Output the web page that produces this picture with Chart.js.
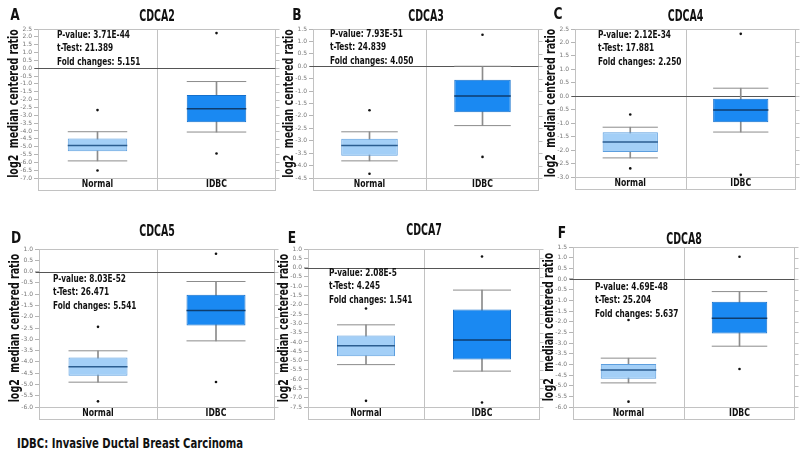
<!DOCTYPE html>
<html>
<head>
<meta charset="utf-8">
<script src="https://cdn.jsdelivr.net/npm/chart.js@4.4.1/dist/chart.umd.min.js"></script>
<style>
  body { margin: 0; background: #fff; width: 800px; height: 462px; position: relative; overflow: hidden;
         font-family: 'Liberation Sans Narrow', 'DejaVu Sans Condensed', sans-serif; color: #111; }
  canvas { position: absolute; }
  .letter { position: absolute; font-weight: bold; font-size: 16px; transform: translate(-50%, -50%) scaleX(0.85); }
  #footer { position: absolute; left: 17px; top: 435px; font-weight: bold; font-size: 14px;
            white-space: nowrap; transform-origin: 0 0; transform: scaleX(0.8); }
</style>
</head>
<body>
<div id="footer">IDBC: Invasive Ductal Breast Carcinoma</div>
<script>
// --- data ---
const genes = ['CDCA2', 'CDCA3', 'CDCA4', 'CDCA5', 'CDCA7', 'CDCA8'];
const letters = ['A', 'B', 'C', 'D', 'E', 'F'];
const groups = ['Normal', 'IDBC'];
const pValues = ['3.71E-44', '7.93E-51', '2.12E-34', '8.03E-52', '2.08E-5', '4.69E-48'];
const tTests = ['21.389', '24.839', '17.881', '26.471', '4.245', '25.204'];
const foldChanges = ['5.151', '4.050', '2.250', '5.541', '1.541', '5.637'];
const yMin = [-7.0, -4.5, -3.0, -6.0, -7.5, -6.0];
const yMax = [2.5, 1.5, 2.5, 1.0, 1.0, 1.5];

// Normal tissue
const normalLow = [-5.91, -3.81, -2.29, -4.90, -5.22, -4.87];
const normalQ1 = [-5.29, -3.60, -2.07, -4.61, -4.77, -4.68];
const normalMedian = [-4.93, -3.19, -1.70, -4.22, -4.20, -4.26];
const normalQ3 = [-4.48, -2.92, -1.34, -3.81, -3.66, -3.98];
const normalHigh = [-4.05, -2.64, -1.15, -3.51, -3.08, -3.71];
const normalOutLow = [-6.52, -4.33, -2.68, -5.75, -7.17, -5.75];
const normalOutHigh = [-2.67, -1.77, -0.68, -2.45, -2.20, -1.92];

// IDBC
const idbcLow = [-4.07, -2.39, -1.33, -3.07, -5.57, -3.15];
const idbcQ1 = [-3.45, -1.85, -0.97, -2.39, -4.95, -2.56];
const idbcMedian = [-2.58, -1.20, -0.51, -1.72, -3.89, -1.84];
const idbcQ3 = [-1.71, -0.54, -0.09, -1.03, -2.25, -1.07];
const idbcHigh = [-0.85, 0.00, 0.30, -0.44, -1.21, -0.59];
const idbcOutLow = [-5.44, -3.65, -2.92, -4.89, -7.26, -4.22];
const idbcOutHigh = [2.24, 1.27, 2.32, 0.79, 0.60, 1.04];

// --- panel placement (plot box edges in page pixels) ---
const panels = [
  { left: 38, top: 29, right: 276, bottom: 178, titleGap: 12, statsDx: 19, statsDy: 6, letter: [15, 14] },
  { left: 313, top: 29, right: 539, bottom: 178, titleGap: 12, statsDx: 17, statsDy: 5, letter: [297, 14] },
  { left: 575, top: 29, right: 796, bottom: 177, titleGap: 12, statsDx: 23, statsDy: 6, letter: [558, 13] },
  { left: 39, top: 249, right: 275, bottom: 407, titleGap: 17, statsDx: 14, statsDy: 30, letter: [16, 237] },
  { left: 308, top: 249, right: 540, bottom: 407, titleGap: 18, statsDx: 21, statsDy: 24, letter: [292, 237] },
  { left: 573, top: 247, right: 795, bottom: 407, titleGap: 7, statsDx: 22, statsDy: 40, letter: [562, 232] }
];

const FONT = "'Liberation Sans Narrow', 'DejaVu Sans Condensed', sans-serif";
const SQUEEZE = 0.78; // narrow the bold labels like the condensed face of the original
const AXIS_W = 38, PAD_TOP = 29, STRIP_H = 12, PAD_R = 6, PAD_B = 4;
const normalFill = '#a3cff7', normalEdge = '#5c9ede', normalMid = '#2b5d90';
const idbcFill = '#1a89f2', idbcEdge = '#1570cc', idbcMid = '#0e3d6e';
const whiskerColor = '#8c8c8c';

function halfBox(ctx) {
  const a = ctx.chart.chartArea;
  return a ? (a.right - a.left) / 8 : 0;
}

function narrowText(ctx, text, x, y, align, angle, squeeze) {
  ctx.save();
  ctx.translate(x, y);
  if (angle) ctx.rotate(angle);
  ctx.scale(squeeze || SQUEEZE, 1);
  ctx.textAlign = align;
  ctx.fillText(text, 0, 0);
  ctx.restore();
}

function makeDecor(i) {
  const p = panels[i];
  return {
    id: 'panelDecor' + i,
    beforeDatasetsDraw(chart) {
      const { ctx, chartArea: a, scales } = chart;
      const L = Math.round(a.left) + 0.5, R = Math.round(a.right) - 0.5;
      const T = Math.round(a.top) + 0.5, B = Math.round(a.bottom) + 0.5;
      const midX = Math.round((scales.x.getPixelForValue(0) + scales.x.getPixelForValue(1)) / 2) + 0.5;
      ctx.save();
      ctx.lineWidth = 1;
      ctx.strokeStyle = '#c2c2c2';
      ctx.strokeRect(L, T, R - L, B + STRIP_H - T);
      ctx.beginPath();
      ctx.moveTo(L, B); ctx.lineTo(R, B);
      ctx.moveTo(midX, T); ctx.lineTo(midX, B + STRIP_H);
      // right side tick marks
      scales.y.ticks.forEach(t => {
        const y = Math.round(scales.y.getPixelForValue(t.value)) + 0.5;
        ctx.moveTo(R, y); ctx.lineTo(R + 4, y);
      });
      ctx.stroke();
      // zero line
      const y0 = Math.round(scales.y.getPixelForValue(0)) + 0.5;
      ctx.strokeStyle = '#555';
      ctx.beginPath();
      ctx.moveTo(L - 4, y0); ctx.lineTo(R, y0);
      ctx.stroke();
      ctx.restore();
    },
    afterDatasetsDraw(chart) {
      const { ctx, chartArea: a, scales } = chart;
      ctx.save();
      ctx.fillStyle = '#111';
      ctx.textBaseline = 'middle';
      // gene title
      ctx.font = 'bold 15px ' + FONT;
      narrowText(ctx, genes[i], (a.left + a.right) / 2, a.top - p.titleGap, 'center', 0, 0.7);
      // y axis title
      ctx.font = 'bold 13.5px ' + FONT;
      narrowText(ctx, 'log2  median centered ratio', a.left - 24, (a.top + a.bottom) / 2, 'center', -Math.PI / 2);
      // category labels in the strip
      ctx.font = 'bold 11px ' + FONT;
      groups.forEach((g, k) => narrowText(ctx, g, scales.x.getPixelForValue(k), a.bottom + STRIP_H / 2 + 0.5, 'center'));
      // statistics
      ctx.font = 'bold 10.5px ' + FONT;
      const lines = ['P-value: ' + pValues[i], 't-Test: ' + tTests[i], 'Fold changes: ' + foldChanges[i]];
      lines.forEach((s, k) => narrowText(ctx, s, a.left + p.statsDx, a.top + p.statsDy + k * 13.7, 'left'));
      ctx.restore();
    }
  };
}

panels.forEach((p, i) => {
  const cv = document.createElement('canvas');
  const cLeft = p.left - AXIS_W, cTop = p.top - PAD_TOP;
  cv.width = p.right + PAD_R - cLeft;
  cv.height = p.bottom + STRIP_H + PAD_B - cTop;
  cv.style.left = cLeft + 'px';
  cv.style.top = cTop + 'px';
  document.body.appendChild(cv);

  const lt = document.createElement('div');
  lt.className = 'letter';
  lt.textContent = letters[i];
  lt.style.left = p.letter[0] + 'px';
  lt.style.top = p.letter[1] + 'px';
  document.body.appendChild(lt);

  const capSet = (data) => ({
    type: 'line', data, showLine: false, pointStyle: 'line',
    pointRadius: halfBox, pointHoverRadius: halfBox,
    pointBorderColor: whiskerColor, pointBorderWidth: 1, order: 2
  });
  const outSet = (data) => ({
    type: 'line', data, showLine: false, pointStyle: 'circle',
    pointRadius: 1.3, pointBackgroundColor: '#111', pointBorderWidth: 0, order: 0
  });

  new Chart(cv.getContext('2d'), {
    type: 'bar',
    data: {
      labels: groups,
      datasets: [
        {
          label: 'whisker',
          data: [[normalLow[i], normalHigh[i]], [idbcLow[i], idbcHigh[i]]],
          backgroundColor: whiskerColor, barThickness: 1, grouped: false, order: 5
        },
        {
          label: 'box',
          data: [[normalQ1[i], normalQ3[i]], [idbcQ1[i], idbcQ3[i]]],
          backgroundColor: [normalFill, idbcFill],
          borderColor: [normalEdge, idbcEdge],
          borderWidth: 1, borderSkipped: false,
          barPercentage: 0.5, categoryPercentage: 1, grouped: false, order: 3
        },
        {
          type: 'line', label: 'median', data: [normalMedian[i], idbcMedian[i]],
          showLine: false, pointStyle: 'line', pointRadius: halfBox, pointHoverRadius: halfBox,
          pointBorderColor: [normalMid, idbcMid], pointBorderWidth: 1.5, order: 1
        },
        capSet([normalLow[i], idbcLow[i]]),
        capSet([normalHigh[i], idbcHigh[i]]),
        outSet([normalOutLow[i], idbcOutLow[i]]),
        outSet([normalOutHigh[i], idbcOutHigh[i]])
      ]
    },
    options: {
      responsive: false,
      animation: false,
      events: [],
      layout: { padding: { top: PAD_TOP, left: 0, right: PAD_R, bottom: PAD_B } },
      plugins: { legend: { display: false }, tooltip: { enabled: false } },
      scales: {
        x: {
          offset: true,
          grid: { display: false, drawTicks: false },
          border: { display: false },
          ticks: { display: false },
          afterFit(scale) { scale.height = STRIP_H; }
        },
        y: {
          min: yMin[i], max: yMax[i],
          border: { display: false },
          grid: { drawOnChartArea: false, drawTicks: true, tickLength: 4, color: '#b5b5b5' },
          ticks: {
            stepSize: 0.5, padding: 2, color: '#777', autoSkip: false,
            font: { family: "'DejaVu Sans', sans-serif", size: 6 },
            callback: v => v.toFixed(1)
          },
          afterFit(scale) { scale.width = AXIS_W; }
        }
      }
    },
    plugins: [makeDecor(i)]
  });
});
</script>
</body>
</html>
